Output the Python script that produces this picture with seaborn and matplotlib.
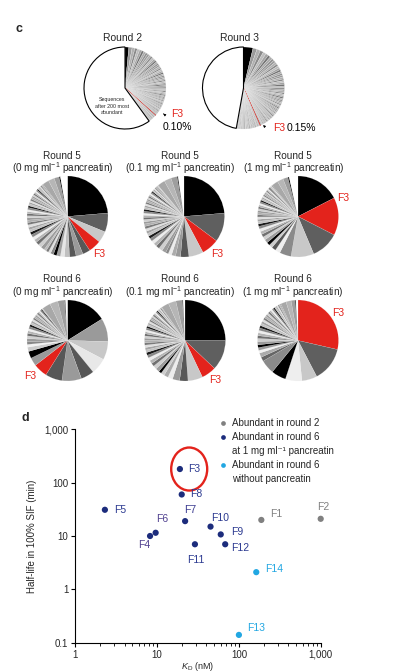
import numpy as np
import pandas as pd
import seaborn as sns
import matplotlib.pyplot as plt
from matplotlib.lines import Line2D
from matplotlib.patches import Ellipse
from matplotlib.ticker import NullLocator, LogLocator
from matplotlib.transforms import ScaledTranslation

sns.set_style("ticks")
plt.rcParams['font.family'] = ['Liberation Sans', 'DejaVu Sans']
plt.rcParams['mathtext.fontset'] = 'custom'
plt.rcParams['mathtext.rm'] = 'Liberation Sans'
plt.rcParams['mathtext.it'] = 'Liberation Sans:italic'
plt.rcParams['mathtext.bf'] = 'Liberation Sans:bold'

# ---- panel c: sequence abundance (% of reads), clockwise from 12 o'clock ----
r2_before_f3 = [1.5, 1.3, 1.1, 1.0, 0.95, 0.9, 0.9, 0.85, 0.85, 0.8, 0.8, 0.8, 0.75, 0.75, 0.75,
                0.7, 0.7, 0.7, 0.7, 0.65, 0.65, 0.65, 0.65, 0.6, 0.6, 0.6, 0.6, 0.6, 0.55, 0.55,
                0.55, 0.55, 0.55, 0.5, 0.5, 0.5, 0.5, 0.5, 0.5, 0.45, 0.45, 0.45, 0.45, 0.45, 0.45,
                0.4, 0.4, 0.4, 0.4, 0.4, 0.4, 0.4, 0.4, 0.4, 0.35, 0.35, 0.35, 0.35, 0.35, 0.35]
r2_f3 = 0.10
r2_after_f3 = [0.35, 0.35, 0.35, 0.3, 0.3, 0.3, 0.3, 0.3, 0.25, 0.25, 0.25]
r2_rest = 60.0

r3_before_f3 = [3.75, 1.6, 1.4, 1.3, 1.2, 1.1, 1.0, 1.0, 0.95, 0.9, 0.9, 0.85, 0.85, 0.8, 0.8, 0.8,
                0.75, 0.75, 0.75, 0.7, 0.7, 0.7, 0.7, 0.65, 0.65, 0.65, 0.65, 0.6, 0.6, 0.6, 0.6,
                0.6, 0.55, 0.55, 0.55, 0.55, 0.5, 0.5, 0.5, 0.5, 0.5, 0.5, 0.45, 0.45, 0.45, 0.45,
                0.45, 0.4, 0.4, 0.4, 0.4, 0.4, 0.4, 0.4, 0.4, 0.35, 0.35, 0.35, 0.35, 0.35, 0.35,
                0.35, 0.35]
r3_f3 = 0.15
r3_after_f3 = [0.35, 0.35, 0.35, 0.35, 0.3, 0.3, 0.3, 0.3, 0.3, 0.3, 0.3, 0.3, 0.3, 0.3,
               0.25, 0.25, 0.25, 0.25, 0.25, 0.25, 0.25, 0.25, 0.25, 0.25, 0.25, 0.25,
               0.2, 0.2, 0.2, 0.2, 0.2, 0.2, 0.2, 0.2, 0.2, 0.2]
r3_rest = 47.2

r5_0_vals = [23.5, 7.5, 4.5, 5.0, 3.0, 2.8, 2.6, 2.0, 1.6, 1.5, 1.3, 1.2, 1.0, 1.0, 0.9,
             1.5, 1.4, 1.3, 1.2, 1.2, 1.1, 1.1, 1.0, 1.0, 1.0, 0.95, 0.9, 0.9, 0.85, 0.85, 0.8,
             0.8, 0.8, 0.75, 0.75, 0.7, 0.7, 0.7, 0.65, 0.65, 0.6, 0.6, 0.6, 0.55, 0.55, 0.5,
             0.5, 0.5, 0.45, 0.45, 0.4, 0.4,
             2.6, 2.4, 2.0, 0.5, 2.8]
r5_01_vals = [23.6, 11.5, 7.0, 5.8, 3.3, 2.0, 1.6, 1.4, 1.1,
              1.6, 1.5, 1.4, 1.3, 1.3, 1.2, 1.1, 1.1, 1.0, 1.0, 1.0, 0.95, 0.9, 0.9, 0.85, 0.85,
              0.8, 0.8, 0.8, 0.75, 0.75, 0.7, 0.7, 0.7, 0.65, 0.65, 0.6, 0.6, 0.6, 0.55, 0.55,
              0.5, 0.5, 0.5, 0.45, 0.45, 0.4, 0.4,
              3.0, 2.8, 2.5, 0.4, 2.3]
r5_1_vals = [17.4, 15.0, 11.1, 9.1, 4.6, 2.0, 1.7, 1.4, 1.3,
             1.4, 1.3, 1.2, 1.2, 1.1, 1.0, 1.0, 0.95, 0.9, 0.9, 0.85, 0.85, 0.8, 0.8, 0.75, 0.75,
             0.7, 0.7, 0.65, 0.65, 0.6, 0.6, 0.55, 0.55, 0.5, 0.5, 0.45, 0.45, 0.4, 0.4, 0.35,
             0.35, 0.3, 0.3, 0.3,
             2.6, 2.4, 2.0, 0.5, 3.5]
r6_0_vals = [16.1, 9.3, 7.3, 6.4, 5.3, 7.8, 6.7, 5.6, 3.3, 2.8, 1.7, 1.1, 1.1,
             1.2, 1.1, 1.0, 1.0, 0.9, 0.9, 0.85, 0.8, 0.8, 0.75, 0.7, 0.7, 0.65, 0.6, 0.6, 0.55,
             0.5, 0.5, 0.45, 0.4,
             3.4, 3.2, 2.8, 0.3, 0.8]
r6_01_vals = [24.7, 11.9, 5.8, 5.8, 3.3, 2.8, 1.9, 1.7, 1.4, 1.1,
              1.5, 1.4, 1.3, 1.3, 1.2, 1.1, 1.1, 1.0, 1.0, 0.95, 0.95, 0.9, 0.9, 0.85, 0.85,
              0.8, 0.8, 0.75, 0.75, 0.7, 0.7, 0.7, 0.65, 0.65, 0.6, 0.6, 0.6, 0.55, 0.55, 0.5,
              0.5, 0.45, 0.45, 0.4, 0.4, 0.35,
              3.0, 3.0, 2.6, 0.3, 0.7]
r6_1_vals = [28.2, 13.6, 6.0, 6.5, 5.8, 5.5, 1.7, 1.7, 1.1, 1.1, 1.1,
             1.3, 1.2, 1.1, 1.1, 1.0, 1.0, 0.95, 0.9, 0.9, 0.85, 0.8, 0.8, 0.75, 0.75, 0.7, 0.7,
             0.65, 0.6, 0.6, 0.55, 0.5, 0.5, 0.45, 0.4, 0.4,
             2.2, 2.0, 1.6, 0.3, 0.8]

# ---- panel d: clones ----
clone_names = ['F1', 'F2', 'F3', 'F4', 'F5', 'F6', 'F7', 'F8', 'F9', 'F10', 'F11', 'F12', 'F13', 'F14']
kd_nm = [188, 1000, 19, 8.2, 2.3, 9.6, 22, 20, 60, 45, 29, 68, 100, 163]
half_life_min = [20, 21, 180, 10, 31, 11.5, 19, 60, 10.7, 15, 7, 7, 0.14, 2.1]
clone_group = ['r2', 'r2'] + ['r6_1mg'] * 10 + ['r6_none', 'r6_none']

legend_groups = ['r2', 'r6_1mg', None, 'r6_none', None]
legend_lines = ['Abundant in round 2',
                'Abundant in round 6', 'at 1 mg ml\u207b\u00b9 pancreatin',
                'Abundant in round 6', 'without pancreatin']

# ---- styles ----
W, H = 395, 672
RED = '#e3231c'
group_colors = {'r2': '#808080', 'r6_1mg': '#1c2c7c', 'r6_none': '#22a7e2'}
top_cycle = ['#9a9a9a', '#b0b0b0', '#8a8a8a', '#bdbdbd', '#a4a4a4', '#747474', '#aaaaaa', '#929292']
low_cycle = ['#9c9c9c', '#cfcfcf', '#707070', '#b5b5b5', '#ededed', '#888888', '#1a1a1a',
             '#c2c2c2', '#a6a6a6', '#dedede', '#7a7a7a', '#b0b0b0']
low_tail = ['#a8a8a8', '#b6b6b6', '#9e9e9e', '#000000', '#ffffff']

r5_0_head = ['#000000', '#5f5f5f', '#c8c8c8', RED, '#575757', '#9a9a9a', '#575757', '#c0c0c0',
             '#e6e6e6', '#a0a0a0', '#000000', '#888888', '#e0e0e0', '#7a7a7a', '#bdbdbd']
r5_01_head = ['#000000', '#5f5f5f', RED, '#c8c8c8', '#575757', '#999999', '#ababab', '#ececec', '#888888']
r5_1_head = ['#000000', RED, '#5f5f5f', '#c8c8c8', '#8a8a8a', '#eeeeee', '#575757', '#cccccc', '#000000']
r6_0_head = ['#000000', '#9a9a9a', '#c8c8c8', '#e8e8e8', '#575757', '#9a9a9a', '#575757', RED,
             '#9a9a9a', '#000000', '#cccccc', '#f2f2f2', '#888888']
r6_01_head = ['#000000', '#5f5f5f', RED, '#c8c8c8', '#575757', '#9a9a9a', '#ececec', '#ababab',
              '#cccccc', '#000000']
r6_1_head = [RED, '#5f5f5f', '#c8c8c8', '#eeeeee', '#000000', '#8a8a8a', '#666666', '#ababab',
             '#f2f2f2', '#999999', '#000000']


def fx(px):
    return px / W


def fy(py):
    return 1 - py / H


fig = plt.figure(figsize=(W / 100, H / 100), dpi=100)


def pie_axes(cx, cy, r):
    return fig.add_axes([fx(cx - r), fy(cy + r), 2 * r / W, 2 * r / H])


def draw_pie(ax, vals, cols, lw):
    wedges, _ = ax.pie(vals, colors=cols, startangle=90, counterclock=False,
                       wedgeprops=dict(edgecolor='#f4f4f4', linewidth=lw))
    ax.set_xlim(-1, 1)
    ax.set_ylim(-1, 1)
    return wedges


# top row: rounds 2 and 3
for cx, before, f3, after, rest, pct, title, tx in [
        (125, r2_before_f3, r2_f3, r2_after_f3, r2_rest, '0.10%', 'Round 2', 122.3),
        (243.5, r3_before_f3, r3_f3, r3_after_f3, r3_rest, '0.15%', 'Round 3', 239)]:
    ax = pie_axes(cx, 88, 41)
    vals = before + [f3] + after + [rest]
    cols = (['#000000'] + [top_cycle[i % len(top_cycle)] for i in range(len(before) - 1)]
            + [RED] + [top_cycle[i % len(top_cycle)] for i in range(len(after))] + ['white'])
    wedges = draw_pie(ax, vals, cols, 0.15)
    wedges[-1].set_edgecolor('black')
    wedges[-1].set_linewidth(0.8)
    f3_wedge = wedges[len(before)]
    f3_wedge.set_edgecolor(RED)
    f3_wedge.set_linewidth(0.4)
    fig.text(fx(tx), fy(38), title, ha='center', va='center', fontsize=7.5)
    if title == 'Round 2':
        ax.text(-0.32, -0.44, 'Sequences\nafter 200 most\nabundant', ha='center', va='center',
                fontsize=3.8, linespacing=1.3)
        ax.annotate('', xy=(0.88, -0.585), xytext=(0.99, -0.67),
                    arrowprops=dict(arrowstyle='-|>', color='black', lw=0.6, mutation_scale=3))
        ax.text(1.12, -0.634, 'F3', color=RED, fontsize=7.5, ha='left', va='center')
        ax.text(0.91, -0.95, pct, color='black', fontsize=7.5, ha='left', va='center')
    else:
        ax.annotate('', xy=(0.477, -0.904), xytext=(0.566, -0.988),
                    arrowprops=dict(arrowstyle='-|>', color='black', lw=0.6, mutation_scale=3))
        ax.text(0.718, -0.976, 'F3', color=RED, fontsize=7.5, ha='left', va='center')
        ax.text(1.04, -0.976, pct, color='black', fontsize=7.5, ha='left', va='center')

# rows for rounds 5 and 6
low_pies = [
    (67.5, 216.5, r5_0_vals, r5_0_head, 'Round 5', '(0 mg ml$^{-1}$ pancreatin)', 62.3, (0.78, -0.93)),
    (184, 216.5, r5_01_vals, r5_01_head, 'Round 5', '(0.1 mg ml$^{-1}$ pancreatin)', 180, (0.81, -0.93)),
    (298, 216.5, r5_1_vals, r5_1_head, 'Round 5', '(1 mg ml$^{-1}$ pancreatin)', 293.3, (1.12, 0.45)),
    (67.5, 340.5, r6_0_vals, r6_0_head, 'Round 6', '(0 mg ml$^{-1}$ pancreatin)', 62.3, (-0.91, -0.87)),
    (185, 340.5, r6_01_vals, r6_01_head, 'Round 6', '(0.1 mg ml$^{-1}$ pancreatin)', 179.5, (0.74, -0.975)),
    (298, 340.5, r6_1_vals, r6_1_head, 'Round 6', '(1 mg ml$^{-1}$ pancreatin)', 293, (0.995, 0.67)),
]
for cx, cy, vals, head, t1, t2, tx, f3pos in low_pies:
    ax = pie_axes(cx, cy, 40.5)
    n_mid = len(vals) - len(head) - len(low_tail)
    cols = head + [low_cycle[i % len(low_cycle)] for i in range(n_mid)] + low_tail
    draw_pie(ax, vals, cols, 0.08)
    ty = 155.7 if cy < 300 else 279.5
    fig.text(fx(tx), fy(ty), t1, ha='center', va='center', fontsize=7.2)
    fig.text(fx(tx), fy(ty + 12.6), t2, ha='center', va='center', fontsize=7.2)
    ax.text(f3pos[0], f3pos[1], 'F3', color=RED, fontsize=7.5, ha='center', va='center')

# ---- panel d scatter ----
df = pd.DataFrame({'clone': clone_names, 'kd': kd_nm, 'half_life': half_life_min, 'group': clone_group})
ax = fig.add_axes([fx(75.3), fy(642.7), 245.4 / W, 213.4 / H])
sns.scatterplot(data=df, x='kd', y='half_life', hue='group', palette=group_colors, s=20,
                linewidth=0, legend=False, ax=ax, clip_on=False, zorder=3)
ax.set_xscale('log')
ax.set_yscale('log')
ax.set_xlim(1, 1000)
ax.set_ylim(0.1, 1000)
sns.despine(ax=ax)
ax.set_xticks([1, 10, 100, 1000], labels=['1', '10', '100', '1,000'])
ax.set_yticks([0.1, 1, 10, 100, 1000], labels=['0.1', '1', '10', '100', '1,000'])
ax.xaxis.set_minor_locator(LogLocator(base=10, subs=np.arange(2, 10)))
ax.yaxis.set_minor_locator(NullLocator())
ax.tick_params(which='major', length=3, width=0.8, labelsize=7, pad=2, color='black')
ax.tick_params(which='minor', length=2, width=0.6, color='black')
for sp in ax.spines.values():
    sp.set_linewidth(0.8)
    sp.set_color('black')
ax.set_xlabel('$K_\\mathrm{D}$ (nM)', fontsize=6.5, labelpad=0)
ax.set_ylabel('Half-life in 100% SIF (min)', fontsize=7, labelpad=5)

label_style = {
    'F1': ((6.5, 4.6), 'left', '#808080'),
    'F2': ((1.5, 8.4), 'center', '#808080'),
    'F3': ((6.0, 0), 'left', '#2b3990'),
    'F4': ((-4.3, -6.7), 'center', '#50408f'),
    'F5': ((6.3, 0), 'left', '#2b3990'),
    'F6': ((5, 10), 'center', '#50408f'),
    'F7': ((3.4, 7.7), 'center', '#3a3a90'),
    'F8': ((6.3, 0), 'left', '#2b3990'),
    'F9': ((7.8, 1.4), 'left', '#2b3990'),
    'F10': ((7.2, 6), 'center', '#2b3990'),
    'F11': ((0.7, -11.5), 'center', '#2b3990'),
    'F12': ((4.3, -2.6), 'left', '#2b3990'),
    'F13': ((5.8, 4.8), 'left', '#22a7e2'),
    'F14': ((6.6, 2.2), 'left', '#22a7e2'),
}
for name, x, y in zip(clone_names, kd_nm, half_life_min):
    off, ha, c = label_style[name]
    ax.annotate(name, (x, y), xytext=off, textcoords='offset points', ha=ha, va='center',
                fontsize=7.5, color=c)

# red ring around F3
i3 = clone_names.index('F3')
ring_tf = fig.dpi_scale_trans + ScaledTranslation(kd_nm[i3], half_life_min[i3], ax.transData)
ax.add_patch(Ellipse((0.093, 0), 0.36, 0.43, transform=ring_tf, fill=False, edgecolor=RED,
                     linewidth=1.7, clip_on=False))

# legend: marker sits on the first line of each entry
handles = [Line2D([], [], marker='o', ls='', markersize=3.4, markeredgewidth=0,
                  color=group_colors[g] if g else 'none') for g in legend_groups]
ax.legend(handles, legend_lines, loc='upper left', bbox_to_anchor=(fx(219), fy(418)),
          bbox_transform=fig.transFigure, frameon=False, fontsize=7, handlelength=0.8,
          handletextpad=0.5, labelspacing=0.42, borderpad=0, borderaxespad=0)

fig.text(fx(19), fy(29), 'c', fontsize=9, fontweight='bold', ha='center', va='center')
fig.text(fx(25), fy(418), 'd', fontsize=9, fontweight='bold', ha='center', va='center')

fig.savefig('out.png', dpi=100)
